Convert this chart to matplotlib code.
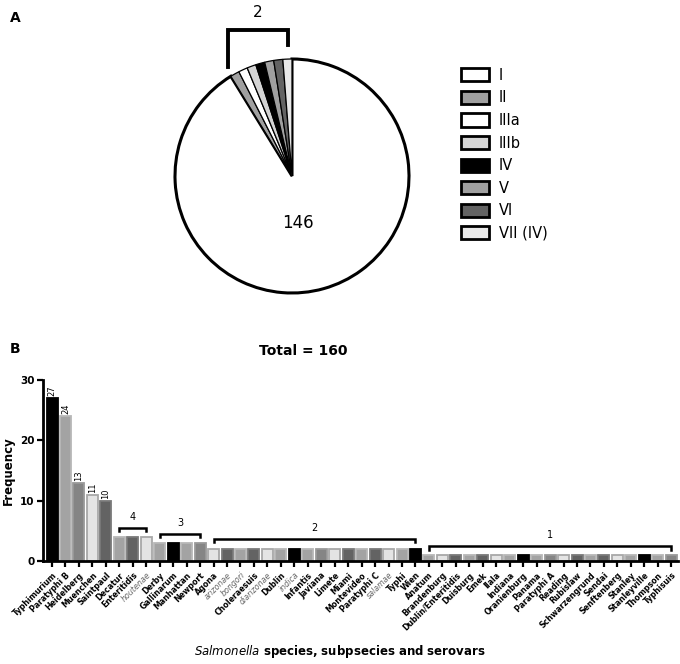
import numpy as np
import matplotlib
matplotlib.use("Agg")
import matplotlib.pyplot as plt
from matplotlib.patches import Patch

# ============================================================
# Data
# ============================================================
pie_labels = ["I", "II", "IIIa", "IIIb", "IV", "V", "VI", "VII (IV)"]
pie_counts = [146, 2, 2, 2, 2, 2, 2, 2]
pie_colors = ["white", "#a0a0a0", "white", "#d4d4d4", "black", "#a0a0a0", "#636363", "#e8e8e8"]

serovars = [
    "Typhimurium", "Paratyphi B", "Heidelberg", "Muenchen", "Saintpaul",
    "Decatur", "Enteritidis", "houtenae",
    "Derby", "Gallinarum", "Manhattan", "Newport",
    "Agona", "arizonae", "bongori", "Choleraesuis", "diarizonae", "Dublin", "indica",
    "Infantis", "Javiana", "Limete", "Miami", "Montevideo", "Paratyphi C", "salamae",
    "Typhi", "Wien",
    "Anatum", "Brandenburg", "Dublin/Enteritidis", "Duisburg", "Emek", "Ilala",
    "Indiana", "Oranienburg", "Panama", "Paratyphi A", "Reading", "Rubislaw",
    "Schwarzengrund", "Sendai", "Senftenberg", "Stanley", "Stanleyville",
    "Thompson", "Typhisuis",
]
freq = [27, 24, 13, 11, 10,
        4, 4, 4,
        3, 3, 3, 3,
        2, 2, 2, 2, 2, 2, 2, 2, 2, 2, 2, 2, 2, 2, 2, 2,
        1, 1, 1, 1, 1, 1, 1, 1, 1, 1, 1, 1, 1, 1, 1, 1, 1, 1, 1]
italic_names = ["houtenae", "arizonae", "bongori", "diarizonae", "indica", "salamae"]

# shade code per bar: K black, D dark, M mid, G gray, L light
shades = ["K", "G", "M", "L", "D",
          "G", "D", "L",
          "G", "K", "G", "M",
          "L", "D", "G", "D", "L", "G", "K", "G", "M", "L", "D", "G", "D", "L", "G", "K",
          "G", "L", "D", "G", "D", "L", "G", "K", "G", "M", "L", "D", "G", "D", "L", "G", "K", "G", "M"]
shade_face = {"K": "black", "D": "#636363", "M": "#858585", "G": "#a3a3a3", "L": "#e4e4e4"}
shade_edge = {"K": "black", "D": "#7a7a7a", "M": "#9a9a9a", "G": "#b8b8b8", "L": "#a8a8a8"}

# groups of equal frequency marked with brackets: (first, last, label)
groups = [(5, 7, "4"), (8, 11, "3"), (12, 27, "2"), (28, 46, "1")]
bracket_y = [5.5, 4.5, 3.7, 2.5]

# ============================================================
# Figure
# ============================================================
W, H = 680, 664
fig = plt.figure(figsize=(W / 100, H / 100), dpi=100)

# ---------------- Panel A: pie ----------------
cx, cy, r = 292, 176, 117
axp = fig.add_axes([(cx - r) / W, 1 - (cy + r) / H, 2 * r / W, 2 * r / H])
wedges, _ = axp.pie(pie_counts, colors=pie_colors, startangle=90, counterclock=False,
                    wedgeprops=dict(edgecolor="black", linewidth=0.9))
wedges[0].set_linewidth(2.2)
axp.set_xlim(-1, 1)
axp.set_ylim(-1, 1)
axp.text(0.05, -0.40, "146", ha="center", va="center", fontsize=12)

# bracket over the small slices
bx = [-0.55, -0.55, -0.03, -0.03]
by = [0.93, 1.25, 1.25, 1.12]
axp.plot(bx, by, color="black", lw=2.8, clip_on=False, solid_joinstyle="miter")
axp.text(-0.29, 1.40, "2", ha="center", va="center", fontsize=11)

handles = [Patch(facecolor=c, edgecolor="black", linewidth=2) for c in pie_colors]
fig.legend(handles, pie_labels, loc="upper left", bbox_to_anchor=(455 / W, 1 - 62 / H),
           frameon=False, fontsize=10.5, handlelength=1.9, handleheight=1.0,
           labelspacing=0.52, handletextpad=0.7, borderaxespad=0)

# ---------------- Panel B: bars ----------------
x = np.arange(len(serovars))
axb = fig.add_axes([43 / W, 1 - 561 / H, (678 - 43) / W, (561 - 380) / H])
faces = [shade_face[s] for s in shades]
edges = [shade_edge[s] for s in shades]
axb.bar(x, freq, width=0.82, color=faces, edgecolor=edges, linewidth=1.3)
axb.set_xlim(-0.67, 46.5)
axb.set_ylim(0, 30)
axb.set_yticks([0, 10, 20, 30])
axb.set_xticks(x)
axb.set_xticklabels(serovars, rotation=45, ha="right", rotation_mode="anchor")
for lab in axb.get_xticklabels():
    if lab.get_text() in italic_names:
        lab.set_fontstyle("italic")
        lab.set_color("#666666")
    else:
        lab.set_fontweight("bold")
    lab.set_fontsize(5.7)
for lab in axb.get_yticklabels():
    lab.set_fontweight("bold")
    lab.set_fontsize(7.5)

for s in ["top", "right"]:
    axb.spines[s].set_visible(False)
for s in ["left", "bottom"]:
    axb.spines[s].set_linewidth(2)
axb.tick_params(axis="both", width=1.6, length=4, pad=2)
axb.tick_params(axis="x", pad=3)

# value labels for the big bars
for i in range(5):
    axb.text(x[i], freq[i] + 0.3, str(freq[i]), rotation=90, ha="center", va="bottom", fontsize=6)

# brackets for groups
for (a, b, lab), yb in zip(groups, bracket_y):
    axb.plot([x[a], x[a], x[b], x[b]], [yb - 0.6, yb, yb, yb - 0.6], color="black", lw=1.8,
             solid_joinstyle="miter")
    axb.text((x[a] + x[b]) / 2, yb + 0.9, lab, ha="center", va="bottom", fontsize=7)

axb.set_ylabel("Frequency", fontsize=8.5, fontweight="bold")
axb.yaxis.set_label_coords(-0.045, 0.5)
axb.set_title("Total = 160", fontsize=10, fontweight="bold", pad=18, x=0.41)
fig.text(340 / W, 1 - 652 / H, r"$\it{Salmonella}$ species, subpsecies and serovars",
         ha="center", va="center", fontsize=8.5, fontweight="bold")

fig.text(10 / W, 1 - 18 / H, "A", fontsize=10, fontweight="bold", va="center")
fig.text(10 / W, 1 - 349 / H, "B", fontsize=10, fontweight="bold", va="center")

plt.savefig("out.png", dpi=100)
print("Saved out.png")
